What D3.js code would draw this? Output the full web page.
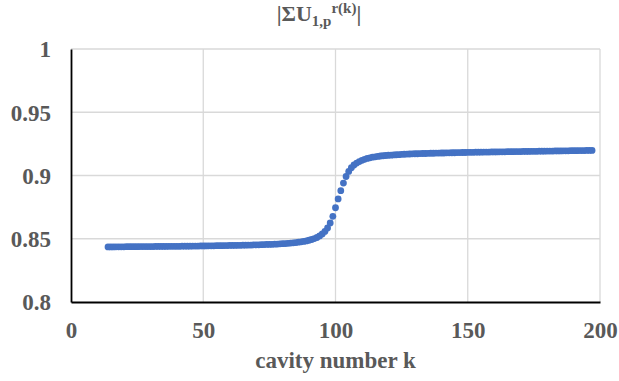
<!DOCTYPE html>
<html><head><meta charset="utf-8">
<script src="https://cdn.jsdelivr.net/npm/d3@7"></script>
<style>html,body{margin:0;padding:0;background:#fff;}</style>
</head><body>
<svg id="chart" width="619" height="381"></svg>
<script>
const kStart = 14;
const values = [
0.8435,0.8435,0.8435,0.8436,0.8436,0.8436,0.8436,0.8437,0.8437,0.8437,0.8437,0.8437,0.8438,0.8438,0.8438,0.8438,
0.8438,0.8438,0.8439,0.8439,0.8439,0.8439,0.8439,0.8440,0.8440,0.8440,
0.8440,0.8440,0.8441,0.8441,0.8441,0.8441,0.8442,0.8442,0.8442,0.8443,
0.8443,0.8443,0.8444,0.8444,0.8444,0.8445,0.8445,0.8445,0.8446,0.8446,
0.8447,0.8447,0.8447,0.8448,0.8448,0.8449,0.8449,0.8450,0.8450,0.8451,
0.8452,0.8452,0.8453,0.8454,0.8455,0.8455,0.8456,0.8457,0.8458,0.8460,
0.8461,0.8462,0.8464,0.8466,0.8468,0.8470,0.8473,0.8476,0.8479,0.8483,
0.8488,0.8494,0.8501,0.8510,0.8522,0.8538,0.8558,0.8585,0.8625,0.8677,
0.8745,0.8815,0.8880,0.8940,0.8992,0.9032,0.9062,0.9083,0.9098,0.9110,
0.9120,0.9128,0.9135,0.9140,0.9145,0.9148,0.9151,0.9154,0.9156,0.9158,
0.9160,0.9161,0.9163,0.9164,0.9165,0.9167,0.9168,0.9169,0.9170,0.9171,
0.9172,0.9172,0.9173,0.9174,0.9174,0.9175,0.9176,0.9176,0.9177,0.9177,
0.9178,0.9178,0.9179,0.9179,0.9180,0.9180,0.9181,0.9181,0.9182,0.9182,
0.9183,0.9183,0.9183,0.9184,0.9184,0.9184,0.9185,0.9185,0.9185,0.9186,
0.9186,0.9186,0.9187,0.9187,0.9187,0.9188,0.9188,0.9188,0.9189,0.9189,
0.9189,0.9190,0.9190,0.9190,0.9191,0.9191,0.9191,0.9192,0.9192,0.9192,
0.9193,0.9193,0.9193,0.9194,0.9194,0.9194,0.9195,0.9195,0.9195,0.9196,
0.9196,0.9196,0.9197,0.9197,0.9197,0.9198,0.9198,0.9198
];
const kValues = values.map((v, i) => kStart + i);
const xTicks = [0, 50, 100, 150, 200];
const yTicks = [0.8, 0.85, 0.9, 0.95, 1];
const yTickLabels = ["0.8", "0.85", "0.9", "0.95", "1"];
const xTitle = "cavity number k";

const svg = d3.select("#chart");
const L = 71, R = 600, T = 49, B = 302;
const x = d3.scaleLinear().domain([0, 200]).range([L, R]);
const y = d3.scaleLinear().domain([0.8, 1]).range([B, T]);
const font = "'Liberation Serif', 'Times New Roman', serif";
const grey = "#595959";

// gridlines
svg.append("g").selectAll("line.h").data(yTicks.slice(1)).join("line")
  .attr("x1", L).attr("x2", R).attr("y1", d => y(d)).attr("y2", d => y(d))
  .attr("stroke", "#d9d9d9").attr("stroke-width", 1.3);
svg.append("g").selectAll("line.v").data(xTicks.slice(1)).join("line")
  .attr("y1", T).attr("y2", B).attr("x1", d => x(d)).attr("x2", d => x(d))
  .attr("stroke", "#d9d9d9").attr("stroke-width", 1.3);

// axes
const xAxis = d3.axisBottom(x).tickValues(xTicks).tickSize(0).tickPadding(0);
const gx = svg.append("g").attr("transform", `translate(0,${B})`).call(xAxis);
gx.attr("font-family", null).attr("font-size", null);
gx.select(".domain").attr("stroke", "#000").attr("stroke-width", 1.8);
gx.selectAll("text").attr("y", 36).attr("dy", null)
  .attr("font-family", font).attr("font-weight", "bold").attr("font-size", 23).attr("fill", grey);

const yAxis = d3.axisLeft(y).tickValues(yTicks).tickSize(0).tickPadding(0)
  .tickFormat((d, i) => yTickLabels[i]);
const gy = svg.append("g").attr("transform", `translate(${L},0)`).call(yAxis);
gy.attr("font-family", null).attr("font-size", null);
gy.select(".domain").attr("stroke", "#000").attr("stroke-width", 1.8);
gy.selectAll("text").attr("x", -20).attr("dy", "0.34em")
  .attr("font-family", font).attr("font-weight", "bold").attr("font-size", 23).attr("fill", grey);

// points
svg.append("g").selectAll("circle").data(values).join("circle")
  .attr("cx", (d, i) => x(kValues[i])).attr("cy", d => y(d)).attr("r", 3.4)
  .attr("fill", "#4472C4");

// axis title
svg.append("text").attr("x", (L + R) / 2).attr("y", 368).attr("text-anchor", "middle")
  .attr("font-family", font).attr("font-weight", "bold").attr("font-size", 23)
  .attr("fill", grey).text(xTitle);

// chart title
const t = svg.append("text").attr("x", 319).attr("y", 21).attr("text-anchor", "middle")
  .attr("font-family", font).attr("font-weight", "bold").attr("font-size", 22).attr("fill", grey);
t.append("tspan").text("|ΣU");
t.append("tspan").attr("dy", 5).attr("font-size", 15).text("1,p");
t.append("tspan").attr("dy", -13).attr("font-size", 15).text("r(k)");
t.append("tspan").attr("dy", 8).text("|");
</script>
</body></html>
